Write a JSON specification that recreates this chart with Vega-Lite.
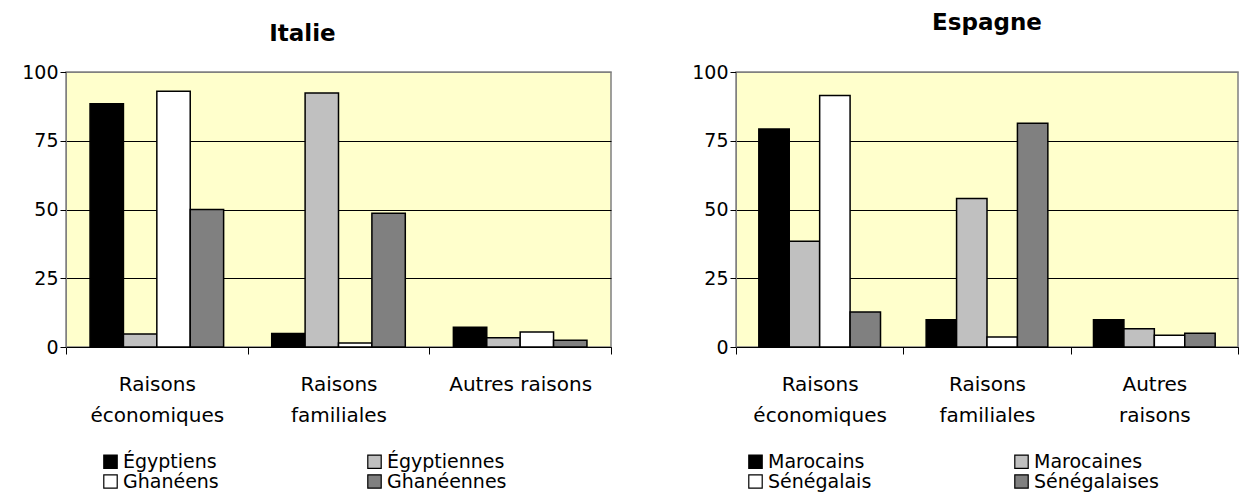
{
  "$schema": "https://vega.github.io/schema/vega-lite/v6.json",
  "background": "white",
  "padding": {"left": 20, "top": 11, "right": 5, "bottom": 5},
  "spacing": 77,
  "datasets": {
    "d": [
      {"pays": "Italie", "raison": "Raisons économiques", "groupe": "Égyptiens", "valeur": 88.5},
      {"pays": "Italie", "raison": "Raisons économiques", "groupe": "Égyptiennes", "valeur": 4.7},
      {"pays": "Italie", "raison": "Raisons économiques", "groupe": "Ghanéens", "valeur": 93},
      {"pays": "Italie", "raison": "Raisons économiques", "groupe": "Ghanéennes", "valeur": 50},
      {"pays": "Italie", "raison": "Raisons familiales", "groupe": "Égyptiens", "valeur": 4.9},
      {"pays": "Italie", "raison": "Raisons familiales", "groupe": "Égyptiennes", "valeur": 92.4},
      {"pays": "Italie", "raison": "Raisons familiales", "groupe": "Ghanéens", "valeur": 1.5},
      {"pays": "Italie", "raison": "Raisons familiales", "groupe": "Ghanéennes", "valeur": 48.6},
      {"pays": "Italie", "raison": "Autres raisons", "groupe": "Égyptiens", "valeur": 7.2},
      {"pays": "Italie", "raison": "Autres raisons", "groupe": "Égyptiennes", "valeur": 3.4},
      {"pays": "Italie", "raison": "Autres raisons", "groupe": "Ghanéens", "valeur": 5.5},
      {"pays": "Italie", "raison": "Autres raisons", "groupe": "Ghanéennes", "valeur": 2.5},
      {"pays": "Espagne", "raison": "Raisons économiques", "groupe": "Marocains", "valeur": 79.3},
      {"pays": "Espagne", "raison": "Raisons économiques", "groupe": "Marocaines", "valeur": 38.5},
      {"pays": "Espagne", "raison": "Raisons économiques", "groupe": "Sénégalais", "valeur": 91.5},
      {"pays": "Espagne", "raison": "Raisons économiques", "groupe": "Sénégalaises", "valeur": 12.7},
      {"pays": "Espagne", "raison": "Raisons familiales", "groupe": "Marocains", "valeur": 9.9},
      {"pays": "Espagne", "raison": "Raisons familiales", "groupe": "Marocaines", "valeur": 54},
      {"pays": "Espagne", "raison": "Raisons familiales", "groupe": "Sénégalais", "valeur": 3.6},
      {"pays": "Espagne", "raison": "Raisons familiales", "groupe": "Sénégalaises", "valeur": 81.4},
      {"pays": "Espagne", "raison": "Autres raisons", "groupe": "Marocains", "valeur": 9.9},
      {"pays": "Espagne", "raison": "Autres raisons", "groupe": "Marocaines", "valeur": 6.6},
      {"pays": "Espagne", "raison": "Autres raisons", "groupe": "Sénégalais", "valeur": 4.3},
      {"pays": "Espagne", "raison": "Autres raisons", "groupe": "Sénégalaises", "valeur": 5.0}
    ]
  },
  "config": {
    "font": "DejaVu Sans",
    "view": {"fill": "#FFFFCC", "stroke": "#808080", "strokeWidth": 1.5},
    "axis": {
      "labelFont": "DejaVu Sans", "labelFontSize": 20, "labelColor": "black",
      "domainColor": "black", "tickColor": "black", "title": null
    },
    "legend": {
      "labelFont": "DejaVu Sans", "labelFontSize": 19, "labelColor": "black",
      "symbolType": "square", "symbolSize": 180, "symbolStrokeColor": "black",
      "symbolStrokeWidth": 1.2, "symbolOpacity": 1, "columns": 2,
      "rowPadding": -2, "labelOffset": 3, "orient": "none", "title": null
    },
    "title": {"font": "DejaVu Sans", "fontSize": 23, "fontWeight": "bold", "color": "black", "anchor": "middle"}
  },
  "hconcat": [
    {
      "title": {"text": "Italie", "offset": 17, "dx": -36},
      "width": 545,
      "height": 275,
      "data": {"name": "d"},
      "transform": [{"filter": "datum.pays == 'Italie'"}],
      "mark": {"type": "bar", "stroke": "black", "strokeWidth": 1.5},
      "encoding": {
        "x": {
          "field": "raison", "type": "nominal",
          "sort": ["Raisons économiques", "Raisons familiales", "Autres raisons"],
          "scale": {"paddingInner": 0, "paddingOuter": 0},
          "axis": {
            "labelAngle": 0, "tickBand": "extent", "tickSize": 7, "labelPadding": 20,
            "labelBaseline": "top", "labelLineHeight": 31,
            "labelExpr": "!isValid(datum.value) ? '' : datum.value == 'Autres raisons' ? datum.value : split(datum.value, ' ')"
          }
        },
        "xOffset": {
          "field": "groupe", "type": "nominal",
          "sort": ["Égyptiens", "Égyptiennes", "Ghanéens", "Ghanéennes"],
          "scale": {"paddingInner": 0, "paddingOuter": 0.72}
        },
        "y": {
          "field": "valeur", "type": "quantitative",
          "scale": {"domain": [0, 100]},
          "axis": {
            "values": [0, 25, 50, 75, 100], "tickSize": 6, "labelPadding": 2, "labelFontSize": 19,
            "minExtent": 44, "maxExtent": 44, "domainColor": "#808080",
            "grid": true, "gridColor": {"condition": {"test": "datum.value == 100", "value": "#808080"}, "value": "black"}, "gridWidth": 1
          }
        },
        "fill": {
          "field": "groupe", "type": "nominal",
          "scale": {"domain": ["Égyptiens", "Ghanéens", "Égyptiennes", "Ghanéennes"], "range": ["#000000", "#FFFFFF", "#C0C0C0", "#808080"]},
          "legend": {"legendX": 35, "legendY": 380, "columnPadding": 146}
        }
      }
    },
    {
      "title": {"text": "Espagne", "offset": 28},
      "width": 502,
      "height": 275,
      "data": {"name": "d"},
      "transform": [{"filter": "datum.pays == 'Espagne'"}],
      "mark": {"type": "bar", "stroke": "black", "strokeWidth": 1.5},
      "encoding": {
        "x": {
          "field": "raison", "type": "nominal",
          "sort": ["Raisons économiques", "Raisons familiales", "Autres raisons"],
          "scale": {"paddingInner": 0, "paddingOuter": 0},
          "axis": {
            "labelAngle": 0, "tickBand": "extent", "tickSize": 7, "labelPadding": 20,
            "labelBaseline": "top", "labelLineHeight": 31,
            "labelExpr": "!isValid(datum.value) ? '' : split(datum.value, ' ')"
          }
        },
        "xOffset": {
          "field": "groupe", "type": "nominal",
          "sort": ["Marocains", "Marocaines", "Sénégalais", "Sénégalaises"],
          "scale": {"paddingInner": 0, "paddingOuter": 0.75}
        },
        "y": {
          "field": "valeur", "type": "quantitative",
          "scale": {"domain": [0, 100]},
          "axis": {
            "values": [0, 25, 50, 75, 100], "tickSize": 6, "labelPadding": 2, "labelFontSize": 19,
            "minExtent": 44, "maxExtent": 44, "domainColor": "#808080",
            "grid": true, "gridColor": {"condition": {"test": "datum.value == 100", "value": "#808080"}, "value": "black"}, "gridWidth": 1
          }
        },
        "fill": {
          "field": "groupe", "type": "nominal",
          "scale": {"domain": ["Marocains", "Sénégalais", "Marocaines", "Sénégalaises"], "range": ["#000000", "#FFFFFF", "#C0C0C0", "#808080"]},
          "legend": {"legendX": 10, "legendY": 380, "columnPadding": 140}
        }
      }
    }
  ],
  "resolve": {"scale": {"fill": "independent", "x": "independent", "y": "independent", "xOffset": "independent"}}
}
